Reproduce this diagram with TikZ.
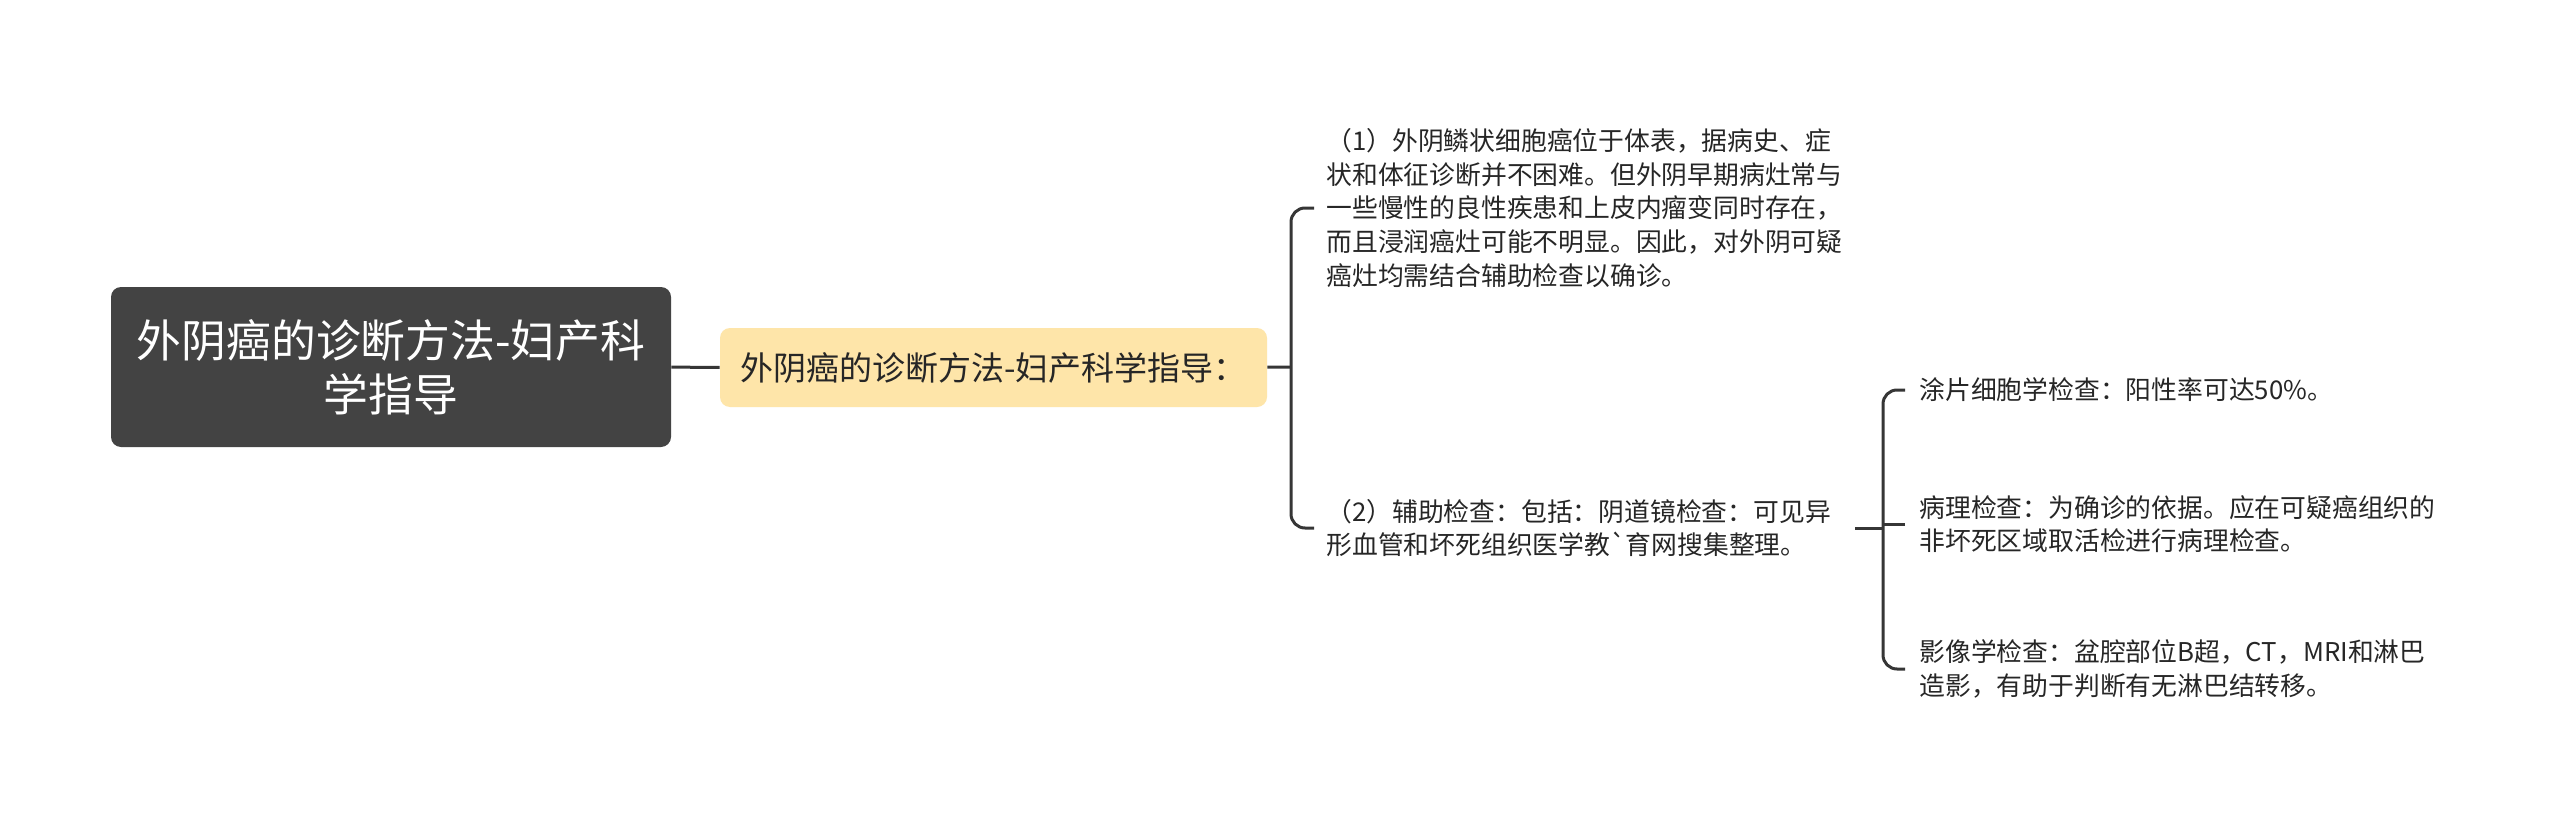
\documentclass[tikz,border=0pt]{standalone}
\usepackage{fontspec}
\setmainfont{Noto Sans CJK SC}[Ligatures=TeXOff]
\usetikzlibrary{positioning}
\definecolor{rootgray}{HTML}{434343}
\definecolor{subyellow}{HTML}{FEE5A9}
\definecolor{linegray}{HTML}{363636}
\definecolor{textgray}{HTML}{262626}

\begin{document}
\begin{tikzpicture}[x=0.5pt, y=-0.5pt,
        rootbox/.style={rounded corners=5pt, fill=rootgray, text=white, align=center,
          minimum width=280pt, minimum height=80pt, font=\fontsize{22.4pt}{27pt}\selectfont},
        subbox/.style={rounded corners=5pt, fill=subyellow, text=textgray,
          minimum width=273.5pt, minimum height=39.5pt, font=\fontsize{16.5pt}{20pt}\selectfont},
        leaf/.style={anchor=west, align=left, inner ysep=0pt, inner xsep=6pt, text=textgray,
          font=\fontsize{12.9pt}{16.8pt}\selectfont},
        link/.style={draw=linegray, line width=1.5pt}]
      \useasboundingbox[fill=white] (0,0) rectangle (2560,824);
      % Main topic and its first branch
      \node[rootbox] (root) at (391,367) {外阴癌的诊断方法-妇产科\\学指导};
      \node[subbox] (sec) at (993.5,367.5) {外阴癌的诊断方法-妇产科学指导：};
      \draw[link] (root) -- (sec);

      % Two explanation paragraphs
      \coordinate (ja) at (1291,367);
      \node[leaf] (para1) at (1314,208) {（1）外阴鳞状细胞癌位于体表，据病史、症\\状和体征诊断并不困难。但外阴早期病灶常与\\一些慢性的良性疾患和上皮内瘤变同时存在，\\而且浸润癌灶可能不明显。因此，对外阴可疑\\癌灶均需结合辅助检查以确诊。};
      \node[leaf] (para2) at (1314,528) {（2）辅助检查：包括：阴道镜检查：可见异\\形血管和坏死组织医学教\symbol{96}育网搜集整理。};
      \draw[link] (sec) -- (ja);
      \draw[link, rounded corners=7pt] (para1.west) -| (ja) |- (para2.west);

      % Examinations
      \coordinate (jb) at (1883,528);
      \node[leaf, inner xsep=7pt] (exam1) at (1905,390) {涂片细胞学检查：阳性率可达50\%。};
      \node[leaf, inner xsep=7pt] (exam2) at (1905,524) {病理检查：为确诊的依据。应在可疑癌组织的\\非坏死区域取活检进行病理检查。};
      \node[leaf, inner xsep=7pt] (exam3) at (1905,669) {影像学检查：盆腔部位B超，CT，MRI和淋巴\\造影，有助于判断有无淋巴结转移。};
      \draw[link] ([xshift=6pt]para2.east) -- (jb);
      \draw[link, rounded corners=7pt] (exam1.west) -| (jb) |- (exam3.west);
      \draw[link] (exam2.west) -- (exam2.west -| jb);
    \end{tikzpicture}
\end{document}
